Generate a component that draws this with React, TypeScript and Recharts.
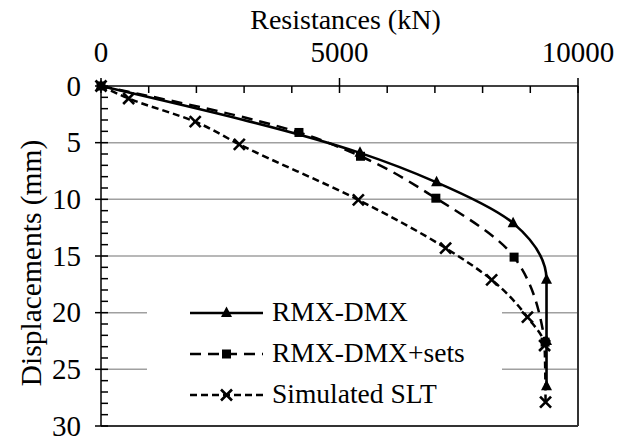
import React from 'react';
import { LineChart, Line, XAxis, YAxis, ReferenceLine, Legend } from 'recharts';

const FONT = "'Liberation Serif', serif";

// RMX-DMX (solid, triangles)
const rmxResistance = [0, 5430, 7035, 8640, 9340, 9340, 9340];
const rmxDisplacement = [0, 5.9, 8.5, 12.1, 17.1, 22.5, 26.5];
// RMX-DMX+sets (long dashes, squares)
const setsResistance = [0, 4150, 5440, 7020, 8660, 9310];
const setsDisplacement = [0, 4.1, 6.2, 9.9, 15.1, 22.6];
// Simulated SLT (short dashes, crosses)
const sltResistance = [0, 580, 1975, 2900, 5395, 7225, 8190, 8940, 9300, 9320];
const sltDisplacement = [0, 1.1, 3.15, 5.15, 10.05, 14.3, 17.1, 20.4, 22.9, 27.9];

const xTicks = [0, 1000, 2000, 3000, 4000, 5000, 6000, 7000, 8000, 9000, 10000];
const xLabelTicks = [0, 5000, 10000];
const yTicks = [0, 1, 2, 3, 4, 5, 6, 7, 8, 9, 10, 11, 12, 13, 14, 15, 16, 17, 18, 19, 20, 21, 22, 23, 24, 25, 26, 27, 28, 29, 30];
const yLabelTicks = [0, 5, 10, 15, 20, 25, 30];
const yGridLines = [5, 10, 15, 20, 25];

const seriesNames = ['RMX-DMX', 'RMX-DMX+sets', 'Simulated SLT'];

const toRows = (r: number[], d: number[]) => r.map((v, i) => ({ r: v, d: d[i] }));
const rmxData = toRows(rmxResistance, rmxDisplacement);
const setsData = toRows(setsResistance, setsDisplacement);
const sltData = toRows(sltResistance, sltDisplacement);

const Triangle = ({ cx, cy }: { cx: number; cy: number }) => (
  <polygon points={`${cx},${cy - 6.5} ${cx - 5.5},${cy + 4} ${cx + 5.5},${cy + 4}`} fill="#000" />
);
const Square = ({ cx, cy }: { cx: number; cy: number }) => (
  <rect x={cx - 4.5} y={cy - 4.5} width={9} height={9} fill="#000" />
);
const Cross = ({ cx, cy }: { cx: number; cy: number }) => (
  <g stroke="#000" strokeWidth={2.6}>
    <line x1={cx - 5.5} y1={cy - 5.5} x2={cx + 5.5} y2={cy + 5.5} />
    <line x1={cx - 5.5} y1={cy + 5.5} x2={cx + 5.5} y2={cy - 5.5} />
  </g>
);

const dotTri = (p: any) => (p.cx == null ? <g key={`t${p.index}`} /> : <g key={`t${p.index}`}><Triangle cx={p.cx} cy={p.cy} /></g>);
const dotSq = (p: any) => (p.cx == null ? <g key={`s${p.index}`} /> : <g key={`s${p.index}`}><Square cx={p.cx} cy={p.cy} /></g>);
const dotX = (p: any) => (p.cx == null ? <g key={`x${p.index}`} /> : <g key={`x${p.index}`}><Cross cx={p.cx} cy={p.cy} /></g>);

const txtStyle = (size: number) => ({ fontFamily: FONT, fontSize: size, fill: '#000' });

const XTick = (props: any) => {
  const { x, y, payload } = props;
  const major = xLabelTicks.includes(payload.value);
  return (
    <g>
      <line x1={x} x2={x} y1={major ? y - 8 : y} y2={y + 7} stroke="#000" strokeWidth={1.5} />
      {major && (
        <text x={x} y={y - 24} textAnchor="middle" style={txtStyle(29)}>
          {payload.value}
        </text>
      )}
    </g>
  );
};

const YTick = (props: any) => {
  const { x, y, payload } = props;
  const major = yLabelTicks.includes(payload.value);
  return (
    <g>
      <line x1={major ? x - 6 : x} x2={x + 7} y1={y} y2={y} stroke="#000" strokeWidth={1.5} />
      {major && (
        <text x={x - 20} y={y + 9.5} textAnchor="end" style={txtStyle(29)}>
          {payload.value}
        </text>
      )}
    </g>
  );
};

const XTitle = (props: any) => {
  const vb = props.viewBox || { x: 101, y: 0, width: 477, height: 86 };
  const tx = vb.x + vb.width / 2 + 6;
  const ty = vb.y + 29;
  return (
    <text x={tx} y={ty} textAnchor="middle" style={txtStyle(28)}>
      Resistances (kN)
    </text>
  );
};

const YTitle = (props: any) => {
  const vb = props.viewBox || { x: 0, y: 86, width: 101, height: 340 };
  const tx = vb.x + 41;
  const ty = vb.y + vb.height / 2 + 7;
  return (
    <text x={tx} y={ty} transform={`rotate(-90 ${tx} ${ty})`} textAnchor="middle" style={txtStyle(29.5)}>
      Displacements (mm)
    </text>
  );
};

const legendStyles = [
  { dash: undefined as string | undefined, Marker: Triangle },
  { dash: '11 7', Marker: Square },
  { dash: '7 4', Marker: Cross },
];

const LegendBox = () => (
  <svg width={355} height={126} style={{ display: 'block' }}>
    <rect x={0} y={0} width={355} height={126} fill="#fff" />
    {seriesNames.map((name, i) => {
      const cy = 21 + i * 41;
      const { dash, Marker } = legendStyles[i];
      return (
        <g key={name}>
          <line x1={43} x2={116} y1={cy} y2={cy} stroke="#000" strokeWidth={2.5} strokeDasharray={dash} />
          <Marker cx={79.5} cy={cy} />
          <text x={125} y={cy + 8} style={txtStyle(27.5)}>
            {name}
          </text>
        </g>
      );
    })}
  </svg>
);

export default function App() {
  return (
    <div style={{ position: 'absolute', left: 0, top: 0, background: '#fff' }}>
      <LineChart
        width={627}
        height={440}
        layout="vertical"
        margin={{ top: 0, right: 49, bottom: 14, left: 0 }}
      >
        <XAxis
          type="number"
          orientation="top"
          dataKey="r"
          domain={[0, 10000]}
          ticks={xTicks}
          interval={0}
          height={86}
          tickSize={0}
          tickMargin={0}
          tickLine={false}
          axisLine={{ stroke: '#000', strokeWidth: 1.5 }}
          tick={XTick}
          label={{ content: XTitle }}
        />
        <YAxis
          type="number"
          dataKey="d"
          domain={[0, 30]}
          ticks={yTicks}
          interval={0}
          width={101}
          tickSize={0}
          tickMargin={0}
          tickLine={false}
          axisLine={{ stroke: '#000', strokeWidth: 1.5 }}
          tick={YTick}
          label={{ content: YTitle }}
        />
        {yGridLines.map((v) => (
          <ReferenceLine key={v} y={v} stroke="#a0a0a0" strokeWidth={1.5} />
        ))}
        <ReferenceLine x={10000} stroke="#333" strokeWidth={2} />
        <ReferenceLine y={30} stroke="#333" strokeWidth={2} />
        <Line
          data={sltData}
          dataKey="r"
          name={seriesNames[2]}
          type="monotone"
          stroke="#000"
          strokeWidth={2.5}
          strokeDasharray="7 4"
          dot={dotX}
          activeDot={false}
          isAnimationActive={false}
        />
        <Line
          data={setsData}
          dataKey="r"
          name={seriesNames[1]}
          type="monotone"
          stroke="#000"
          strokeWidth={2.5}
          strokeDasharray="11 7"
          dot={dotSq}
          activeDot={false}
          isAnimationActive={false}
        />
        <Line
          data={rmxData}
          dataKey="r"
          name={seriesNames[0]}
          type="monotone"
          stroke="#000"
          strokeWidth={2.6}
          dot={dotTri}
          activeDot={false}
          isAnimationActive={false}
        />
        <Legend
          layout="horizontal"
          verticalAlign="middle"
          align="center"
          wrapperStyle={{ left: 147, top: 292, width: 355, height: 126 }}
          content={() => <LegendBox />}
        />
      </LineChart>
    </div>
  );
}
